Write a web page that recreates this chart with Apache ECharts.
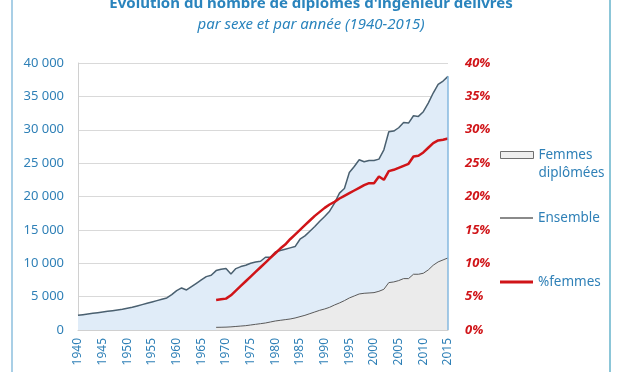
<!DOCTYPE html>
<html>
<head>
<meta charset="utf-8">
<script src="https://cdn.jsdelivr.net/npm/echarts@6/dist/echarts.min.js"></script>
<style>html,body{margin:0;padding:0;background:#fff;}#c{width:622px;height:372px;}</style>
</head>
<body>
<div id="c"></div>
<script>
var years = [];
for (var y = 1940; y <= 2015; y++) years.push(String(y));

var ensemble = [2200,2300,2400,2500,2600,2700,2800,2900,3000,3100,
  3250,3400,3600,3800,4000,4200,4400,4600,4800,5300,
  5900,6300,6000,6500,7000,7500,8000,8200,8900,9100,
  9200,8400,9200,9500,9700,10000,10200,10300,10900,10900,
  11700,11900,12100,12300,12500,13600,14100,14800,15500,16300,
  17000,17800,19000,20500,21200,23600,24500,25500,25200,25400,
  25400,25600,27000,29700,29800,30300,31100,31000,32100,32000,
  32700,34000,35500,36800,37300,38000];

var femmes = [null,null,null,null,null,null,null,null,null,null,
  null,null,null,null,null,null,null,null,null,null,
  null,null,null,null,null,null,null,null,400,410,
  430,470,530,590,650,750,850,950,1050,1200,
  1350,1450,1550,1650,1800,2000,2200,2450,2700,2950,
  3150,3400,3750,4050,4400,4800,5100,5400,5500,5550,
  5600,5800,6100,7100,7200,7400,7700,7700,8350,8350,
  8500,9000,9700,10200,10500,10800];

var pctFemmes = [null,null,null,null,null,null,null,null,null,null,
  null,null,null,null,null,null,null,null,null,null,
  null,null,null,null,null,null,null,null,4.5,4.6,
  4.7,5.2,5.9,6.6,7.3,8.0,8.7,9.4,10.1,10.8,
  11.5,12.2,12.8,13.6,14.3,15.0,15.7,16.4,17.1,17.7,
  18.3,18.8,19.2,19.7,20.1,20.5,20.9,21.3,21.7,22.0,
  22.0,23.0,22.5,23.8,24.0,24.3,24.6,24.9,26.0,26.1,
  26.6,27.3,28.0,28.4,28.5,28.7];

var xTickLabels = ['1940','1945','1950','1955','1960','1965','1970','1975','1980','1985','1990','1995','2000','2005','2010','2015'];

var BLUE = '#2f80b7';
var RED = '#d01418';
var FONT = 'Noto Sans';

var chart = echarts.init(document.getElementById('c'), null, {renderer: 'canvas'});
chart.setOption({
  animation: false,
  backgroundColor: '#fff',
  textStyle: {fontFamily: FONT},
  title: [{
    text: "Evolution du nombre de diplômes d'ingénieur délivrés",
    left: 'center', top: -9,
    textStyle: {fontFamily: FONT, fontSize: 15, fontWeight: 'bold', color: '#2a84bd'}
  }, {
    text: 'par sexe et par année (1940-2015)',
    left: 'center', top: 12,
    textStyle: {fontFamily: FONT, fontSize: 15, fontStyle: 'italic', fontWeight: 'normal', color: '#2a84bd'}
  }],
  graphic: [
    {type: 'line', shape: {x1: 12, y1: 0, x2: 12, y2: 372}, style: {stroke: '#a9cfe6', lineWidth: 2}},
    {type: 'line', shape: {x1: 610, y1: 0, x2: 610, y2: 372}, style: {stroke: '#8cc6d8', lineWidth: 2}}
  ],
  grid: {left: 78, right: 174, top: 63, bottom: 42, containLabel: false},
  legend: [{
    left: 500, top: 128, orient: 'vertical', padding: 0,
    itemWidth: 33, itemHeight: 7,
    textStyle: {color: BLUE, fontFamily: FONT, fontSize: 13.5, lineHeight: 18},
    formatter: function (n) { return n === 'Femmes diplômées' ? ' \nFemmes\ndiplômées' : n; },
    data: [{name: 'Femmes diplômées', icon: 'rect', itemStyle: {color: '#eeeeee', borderColor: '#6f6f6f', borderWidth: 1}}]
  }, {
    left: 500, top: 211, orient: 'vertical', padding: 0,
    itemWidth: 33, itemHeight: 2,
    textStyle: {color: BLUE, fontFamily: FONT, fontSize: 13.5},
    data: [{name: 'Ensemble', icon: 'rect', itemStyle: {color: '#8a8a8a', borderWidth: 0}}]
  }, {
    left: 500, top: 275, orient: 'vertical', padding: 0,
    itemWidth: 33, itemHeight: 3,
    textStyle: {color: BLUE, fontFamily: FONT, fontSize: 13.5},
    data: [{name: '%femmes', icon: 'rect', itemStyle: {color: RED, borderWidth: 0}}]
  }],
  xAxis: {
    type: 'category',
    data: years,
    boundaryGap: false,
    axisLine: {show: true, lineStyle: {color: '#d0d0d0'}},
    axisTick: {show: false},
    splitLine: {show: false},
    axisLabel: {
      rotate: 90, margin: 8,
      color: BLUE, fontFamily: FONT, fontSize: 12,
      interval: function (i, v) { return xTickLabels.indexOf(v) >= 0; }
    }
  },
  yAxis: [{
    type: 'value', min: 0, max: 40000, interval: 5000,
    axisLine: {show: true, lineStyle: {color: '#d0d0d0'}},
    axisTick: {show: false},
    splitLine: {lineStyle: {color: '#d9d9d9'}},
    axisLabel: {
      color: BLUE, fontFamily: FONT, fontSize: 13, margin: 14,
      formatter: function (v) { return v === 0 ? '0' : String(v).replace(/(\d)(?=(\d{3})$)/, '$1 '); }
    }
  }, {
    type: 'value', min: 0, max: 40, interval: 5, position: 'right',
    axisLine: {show: false},
    axisTick: {show: false},
    splitLine: {show: false},
    axisLabel: {
      color: RED, fontFamily: FONT, fontSize: 13, fontWeight: 'bold', fontStyle: 'italic', margin: 17,
      formatter: '{value}%'
    }
  }],
  series: [{
    name: 'Ensemble', type: 'line', data: ensemble, yAxisIndex: 0,
    symbol: 'none', z: 2,
    lineStyle: {color: '#4a6070', width: 1.5},
    itemStyle: {color: '#8a8a8a'},
    areaStyle: {color: '#e0ecf8', opacity: 1},
    markLine: {
      silent: true, symbol: 'none', label: {show: false},
      lineStyle: {color: '#86b9df', width: 1.5, type: 'solid'},
      data: [[{coord: [years[years.length - 1], 0]}, {coord: [years[years.length - 1], ensemble[ensemble.length - 1]]}]]
    }
  }, {
    name: 'Femmes diplômées', type: 'line', data: femmes, yAxisIndex: 0,
    symbol: 'none', z: 3,
    lineStyle: {color: '#5a5a5a', width: 1},
    itemStyle: {color: '#eeeeee'},
    areaStyle: {color: '#ebebeb', opacity: 1}
  }, {
    name: '%femmes', type: 'line', data: pctFemmes, yAxisIndex: 1,
    symbol: 'none', z: 4,
    lineStyle: {color: RED, width: 2.5},
    itemStyle: {color: RED}
  }]
});
</script>
</body>
</html>
